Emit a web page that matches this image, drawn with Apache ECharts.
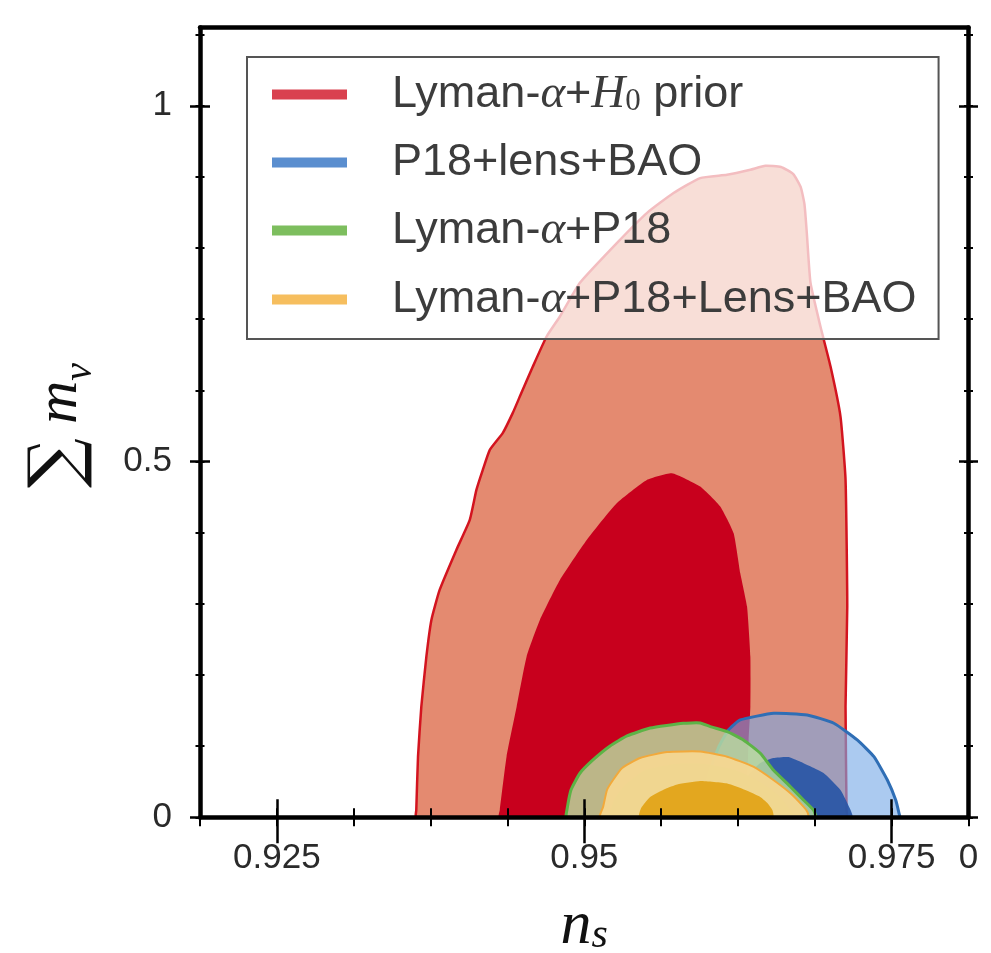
<!DOCTYPE html>
<html><head><meta charset="utf-8">
<script src="https://cdn.jsdelivr.net/npm/echarts@6/dist/echarts.min.js"></script>
<style>html,body{margin:0;padding:0;background:#fff}#c{width:991px;height:953px}</style>
</head><body><div id="c"></div>
<script>
// ---- axis ranges / ticks ----
const xRange = [0.91875, 0.98125];
const yRange = [0, 1.11];
const xMajorTicks = [0.925, 0.95, 0.975];
const xTickLabels = ['0.925', '0.95', '0.975'];
const xEdgeLabel = '0';
const xMinorTicks = [0.91875, 0.925, 0.93125, 0.9375, 0.94375, 0.95, 0.95625, 0.9625, 0.96875, 0.975, 0.98125];
const yMajorTicks = [0, 0.5, 1];
const yTickLabels = ['0', '0.5', '1'];
const yMinorTicks = [0, 0.1, 0.2, 0.3, 0.4, 0.5, 0.6, 0.7, 0.8, 0.9, 1.0, 1.1];

// ---- legend ----
const seriesNames = ['Lyman-α+H0 prior', 'P18+lens+BAO', 'Lyman-α+P18', 'Lyman-α+P18+Lens+BAO'];
const legendRich = [
  '{n|Lyman-}{m|α}{n|+}{m|H}{s|0}{n| prior}',
  '{n|P18+lens+BAO}',
  '{n|Lyman-}{m|α}{n|+P18}',
  '{n|Lyman-}{m|α}{n|+P18+Lens+BAO}'
];

// ---- contours: [n_s, sum m_nu] ----
const redOuter = [[0.93633,0],[0.93634,0.0103],[0.93648,0.0852],[0.93675,0.1555],[0.93716,0.2258],[0.93757,0.2774],[0.93824,0.3196],[0.93960,0.3758],[0.94069,0.4180],[0.94123,0.4601],[0.94175,0.4883],[0.94232,0.5164],[0.94338,0.5403],[0.94419,0.5684],[0.94476,0.5913],[0.94582,0.6335],[0.94694,0.6757],[0.94802,0.7038],[0.94965,0.7512],[0.95291,0.8117],[0.95509,0.8492],[0.95726,0.8773],[0.95943,0.8984],[0.96161,0.9030],[0.96351,0.9100],[0.96473,0.9156],[0.96600,0.9140],[0.96700,0.9040],[0.96760,0.8860],[0.96791,0.8616],[0.96810,0.8214],[0.96840,0.7512],[0.96921,0.6897],[0.97003,0.6335],[0.97084,0.5632],[0.97125,0.4742],[0.97139,0.2961],[0.97125,0.1555],[0.97133,0.0103],[0.97133,0]];
const redInner = [[0.94305,0],[0.94313,0.0103],[0.94368,0.0852],[0.94450,0.1555],[0.94531,0.2258],[0.94639,0.2774],[0.94802,0.3336],[0.95020,0.3898],[0.95264,0.4414],[0.95509,0.4742],[0.95713,0.4836],[0.95943,0.4648],[0.96106,0.4367],[0.96215,0.3993],[0.96269,0.3430],[0.96324,0.2961],[0.96351,0.2258],[0.96351,0.1555],[0.96337,0.1087],[0.96326,0.0524],[0.96318,0]];
const blueOuter = [[0.95960,0],[0.95976,0.0314],[0.96025,0.0665],[0.96090,0.0974],[0.96172,0.1227],[0.96269,0.1368],[0.96541,0.1462],[0.96813,0.1438],[0.97030,0.1322],[0.97220,0.1087],[0.97356,0.0852],[0.97465,0.0524],[0.97533,0.0243],[0.97560,0.0056],[0.97565,0]];
const blueInner = [[0.96229,0],[0.96253,0.0314],[0.96335,0.0595],[0.96432,0.0763],[0.96538,0.0834],[0.96661,0.0848],[0.96758,0.0782],[0.96946,0.0623],[0.97084,0.0384],[0.97166,0.0103],[0.97182,0]];
const greenOuter = [[0.94855,0],[0.94859,0.0103],[0.94892,0.0384],[0.94965,0.0619],[0.95071,0.0806],[0.95210,0.1002],[0.95348,0.1143],[0.95536,0.1255],[0.95805,0.1322],[0.95943,0.1326],[0.96025,0.1274],[0.96163,0.1203],[0.96294,0.1087],[0.96432,0.0900],[0.96538,0.0665],[0.96677,0.0430],[0.96783,0.0243],[0.96864,0.0103],[0.96881,0]];
const greenInner = [[0.95210,0],[0.95242,0.0243],[0.95332,0.0454],[0.95495,0.0665],[0.95740,0.0750],[0.95984,0.0750],[0.96229,0.0665],[0.96432,0.0496],[0.96595,0.0286],[0.96701,0]];
const yellowOuter = [[0.95128,0],[0.95153,0.0145],[0.95185,0.0384],[0.95234,0.0524],[0.95308,0.0693],[0.95454,0.0834],[0.95674,0.0918],[0.95943,0.0925],[0.96163,0.0852],[0.96375,0.0711],[0.96538,0.0524],[0.96677,0.0337],[0.96783,0.0149],[0.96815,0.0075],[0.96823,0]];
const yellowInner = [[0.95446,0],[0.95463,0.0131],[0.95536,0.0286],[0.95658,0.0398],[0.95756,0.0461],[0.95943,0.0510],[0.96163,0.0475],[0.96310,0.0384],[0.96432,0.0286],[0.96489,0.0201],[0.96530,0.0103],[0.96538,0]];

const chart = echarts.init(document.getElementById('c'), null, {renderer: 'canvas'});

function contour(name, poly, fill, stroke, lw) {
  return {
    type: 'custom', name: name, data: poly, encode: {x: 0, y: 1},
    xAxisIndex: 0, yAxisIndex: 0, silent: true, clip: true,
    itemStyle: {color: fill},
    renderItem: function (params, api) {
      if (params.dataIndex !== 0) return null;
      const pts = poly.map(p => api.coord(p));
      return {type: 'polygon', shape: {points: pts, smooth: 0.15},
        style: {fill: fill, stroke: stroke || null, lineWidth: lw || 0, lineJoin: 'round'}};
    }
  };
}

const SANS = 'Liberation Sans, Arial, Helvetica, sans-serif';
const SERIF = 'Liberation Serif, DejaVu Serif, serif';
const AX = {color: '#000', width: 4.5};

function xa(extra) {
  return Object.assign({type: 'value', gridIndex: 0, min: xRange[0], max: xRange[1], z: 10,
    splitLine: {show: false}, axisLine: {show: false}, axisTick: {show: false}, axisLabel: {show: false}}, extra);
}
function ya(extra) {
  return Object.assign({type: 'value', gridIndex: 0, min: yRange[0], max: yRange[1], z: 10,
    splitLine: {show: false}, axisLine: {show: false}, axisTick: {show: false}, axisLabel: {show: false}}, extra);
}
function ticks(vals, len, w) {
  return {show: true, inside: true, length: len, customValues: vals, lineStyle: {color: '#000', width: w}};
}

const option = {
  backgroundColor: '#fff',
  animation: false,
  grid: {left: 200, right: 22.5, top: 27.5, bottom: 135.7, containLabel: false, outerBoundsMode: 'none'},
  xAxis: [
    xa({position: 'bottom', axisLine: {show: true, onZero: false, lineStyle: AX},
      axisLabel: {show: true, fontFamily: SANS, fontSize: 35, color: '#2a2a2a', margin: 24,
        customValues: xMajorTicks.concat([xRange[1]]),
        formatter: function (v) {
          for (let i = 0; i < xMajorTicks.length; i++) if (Math.abs(v - xMajorTicks[i]) < 1e-7) return xTickLabels[i];
          if (Math.abs(v - xRange[1]) < 1e-7) return xEdgeLabel;
          return '';
        }},
      name: '{m|n}{s|s}', nameLocation: 'middle', nameGap: 79,
      nameTextStyle: {rich: {m: {fontFamily: SERIF, fontStyle: 'italic', fontSize: 62, color: '#111', lineHeight: 60, verticalAlign: 'middle'},
        s: {fontFamily: SERIF, fontStyle: 'italic', fontSize: 42, color: '#111', lineHeight: 34, padding: [20, 0, 0, 0], verticalAlign: 'middle'}}}
    }),
    xa({position: 'bottom', offset: 9, axisTick: ticks(xMajorTicks, 18, 2.5)}),
    xa({position: 'bottom', offset: 4.5, axisTick: ticks(xMinorTicks, 9, 2)}),
    xa({position: 'top', axisLine: {show: true, onZero: false, lineStyle: AX}}),
    xa({position: 'top', offset: 18, axisTick: ticks(xMajorTicks, 26, 2.5)}),
    xa({position: 'top', offset: 4.5, axisTick: ticks(xMinorTicks, 9, 2)})
  ],
  yAxis: [
    ya({position: 'left', axisLine: {show: true, onZero: false, lineStyle: AX},
      axisLabel: {show: true, fontFamily: SANS, fontSize: 35, color: '#2a2a2a', margin: 28,
        customValues: yMajorTicks,
        formatter: function (v) {
          for (let i = 0; i < yMajorTicks.length; i++) if (Math.abs(v - yMajorTicks[i]) < 1e-7) return yTickLabels[i];
          return '';
        }},
      name: '{sum|∑}{sp| }{m|m}{s|ν}{e| }', nameLocation: 'middle', nameGap: 100, nameRotate: 90,
      nameTextStyle: {rich: {
        sum: {fontFamily: 'DejaVu Serif, serif', fontSize: 70, color: '#111', lineHeight: 80, verticalAlign: 'middle'},
        sp: {fontSize: 10, lineHeight: 10, width: 14, verticalAlign: 'middle'},
        m: {fontFamily: SERIF, fontStyle: 'italic', fontSize: 60, color: '#111', lineHeight: 56, verticalAlign: 'middle'},
        s: {fontFamily: SERIF, fontStyle: 'italic', fontSize: 40, color: '#111', lineHeight: 30, padding: [40, 0, 0, 0], verticalAlign: 'middle'},
        e: {fontSize: 10, lineHeight: 10, width: 6, verticalAlign: 'middle'}}}
    }),
    ya({position: 'left', offset: 10, axisTick: ticks(yMajorTicks, 20, 2.5)}),
    ya({position: 'left', offset: 4.5, axisTick: ticks(yMinorTicks, 9, 2)}),
    ya({position: 'right', axisLine: {show: true, onZero: false, lineStyle: AX}}),
    ya({position: 'right', offset: 9.5, axisTick: ticks(yMajorTicks, 19, 2.5)}),
    ya({position: 'right', offset: 4.5, axisTick: ticks(yMinorTicks, 9, 2)})
  ],
  legend: {
    show: true, selectedMode: false, orient: 'vertical', left: 247, top: 57,
    padding: [14, 22, 16, 25], itemGap: 22, itemWidth: 75, itemHeight: 10, icon: 'rect',
    backgroundColor: 'rgba(255,255,255,0.72)', borderColor: '#555', borderWidth: 2, borderRadius: 0,
    data: [
      {name: seriesNames[0], itemStyle: {color: '#D9414F'}},
      {name: seriesNames[1], itemStyle: {color: '#5A8ECF'}},
      {name: seriesNames[2], itemStyle: {color: '#7DBE5E'}},
      {name: seriesNames[3], itemStyle: {color: '#F6BE5E'}}
    ],
    formatter: function (name) { return legendRich[seriesNames.indexOf(name)]; },
    textStyle: {color: '#3c3c3c', fontFamily: SANS, fontSize: 45, padding: [0, 0, 0, 40],
      rich: {
        n: {fontFamily: SANS, fontSize: 45, color: '#3c3c3c', lineHeight: 44, verticalAlign: 'middle'},
        m: {fontFamily: SERIF, fontStyle: 'italic', fontSize: 47, color: '#3c3c3c', lineHeight: 44, verticalAlign: 'middle'},
        s: {fontFamily: SERIF, fontSize: 31, color: '#3c3c3c', lineHeight: 24, padding: [14, 0, 0, 0], verticalAlign: 'middle'}
      }}
  },
  series: [
    contour(seriesNames[0], redOuter, '#E48A70', '#D3141F', 2.5),
    contour(seriesNames[0], redInner, '#C8001D', null, 0),
    contour(seriesNames[1], blueOuter, 'rgba(120,170,230,0.62)', '#2F6EB5', 3),
    contour(seriesNames[1], blueInner, 'rgba(38,84,165,0.9)', null, 0),
    contour(seriesNames[2], greenOuter, 'rgba(185,222,160,0.82)', '#5DB346', 3),
    contour(seriesNames[2], greenInner, 'rgba(150,205,120,0.85)', null, 0),
    contour(seriesNames[3], yellowOuter, 'rgba(246,215,145,0.93)', '#F2A93B', 2),
    contour(seriesNames[3], yellowInner, '#E3A71F', null, 0)
  ]
};
chart.setOption(option);
</script></body></html>
